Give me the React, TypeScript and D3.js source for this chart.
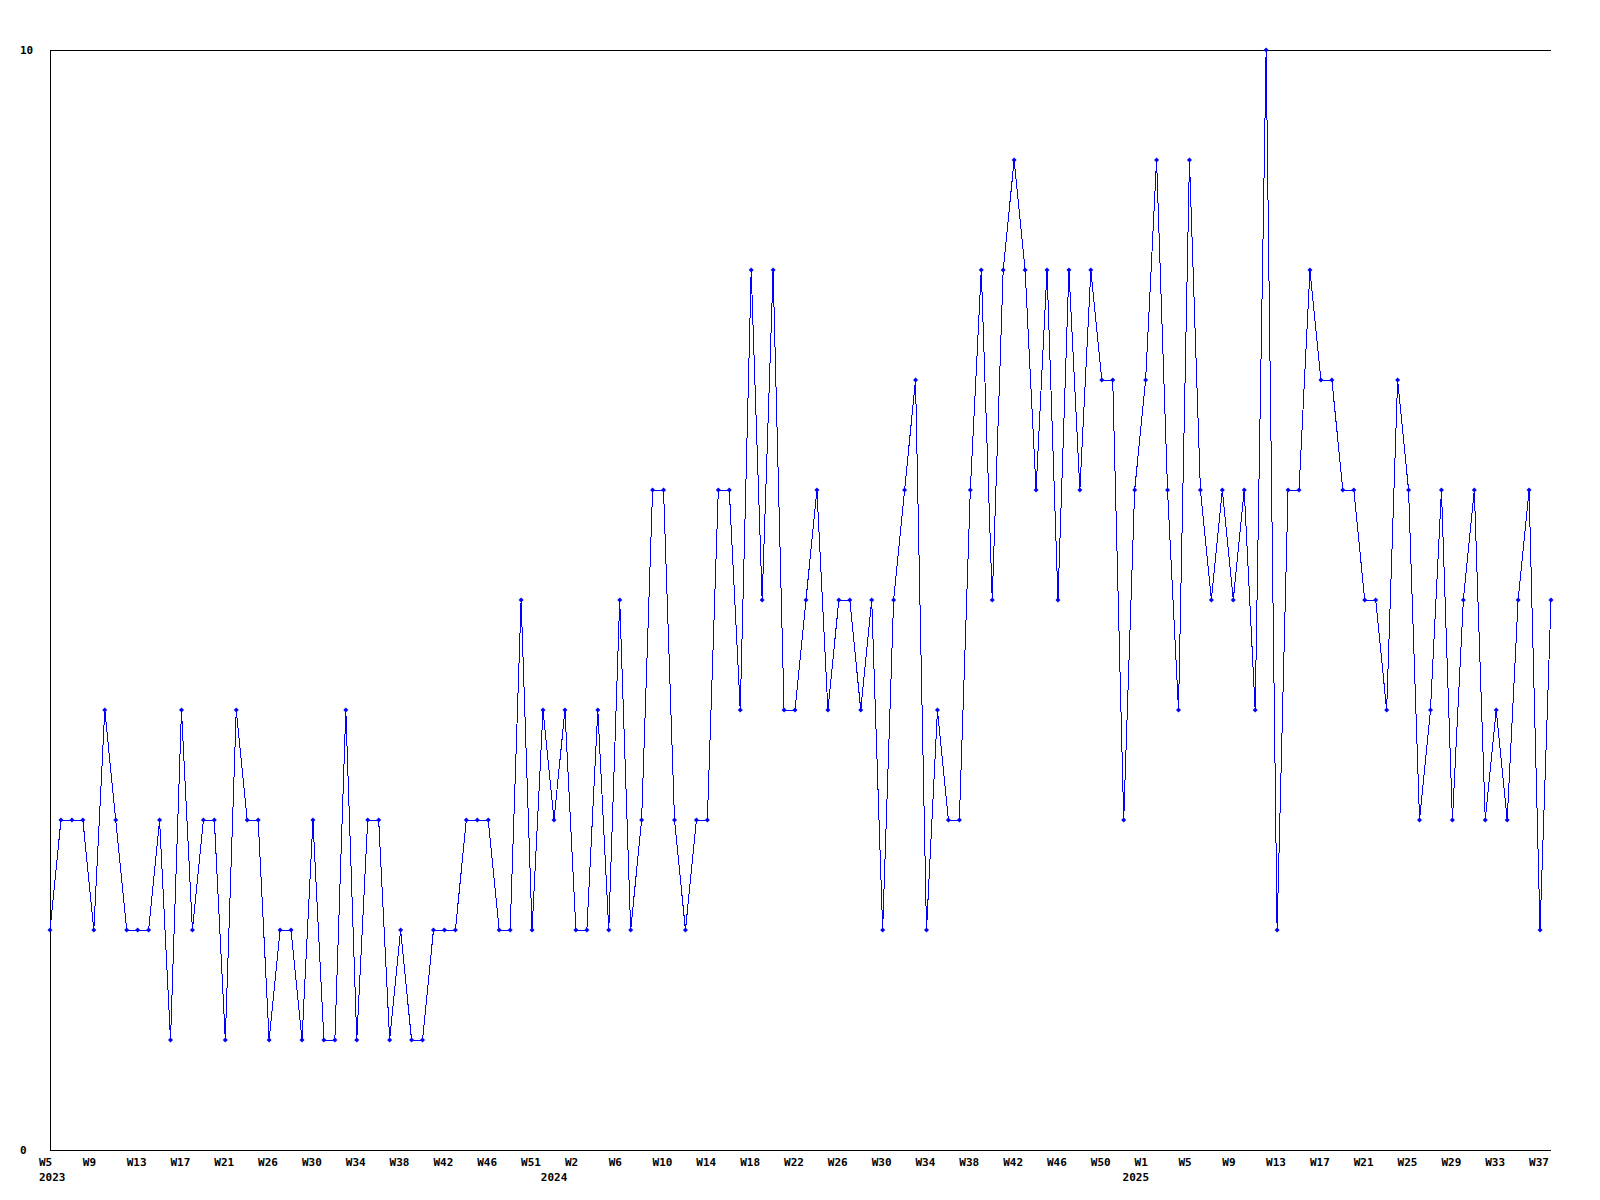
import React from "react";
import * as d3 from "d3";

// Weekly values, 2023 W5 .. 2025 W38 (138 weeks)
const values: number[] = [
  2, 3, 3, 3, 2, 4, 3, 2, 2, 2,
  3, 1, 4, 2, 3, 3, 1, 4, 3, 3,
  1, 2, 2, 1, 3, 1, 1, 4, 1, 3,
  3, 1, 2, 1, 1, 2, 2, 2, 3, 3,
  3, 2, 2, 5, 2, 4, 3, 4, 2, 2,
  4, 2, 5, 2, 3, 6, 6, 3, 2, 3,
  3, 6, 6, 4, 8, 5, 8, 4, 4, 5,
  6, 4, 5, 5, 4, 5, 2, 5, 6, 7,
  2, 4, 3, 3, 6, 8, 5, 8, 9, 8,
  6, 8, 5, 8, 6, 8, 7, 7, 3, 6,
  7, 9, 6, 4, 9, 6, 5, 6, 5, 6,
  4, 10, 2, 6, 6, 8, 7, 7, 6, 6,
  5, 5, 4, 7, 6, 3, 4, 6, 3, 5,
  6, 3, 4, 3, 5, 6, 2, 5,
];

// Week tick labels (one every 4 data points)
const weekLabels: string[] = [
  "W5", "W9", "W13", "W17", "W21", "W26", "W30", "W34", "W38", "W42", "W46", "W51",
  "W2", "W6", "W10", "W14", "W18", "W22", "W26", "W30", "W34", "W38", "W42", "W46", "W50",
  "W1", "W5", "W9", "W13", "W17", "W21", "W25", "W29", "W33", "W37",
];
const tickStep = 4;

// Year labels and their position in data-index units
const yearLabels: string[] = ["2023", "2024", "2025"];
const yearPositions: number[] = [0, 45.8, 98.9];

const yTickValues: number[] = [0, 10];

const FONT = "'DejaVu Sans Mono', monospace";

export default function App() {
  const W = 1600;
  const H = 1200;
  const left = 50;
  const right = 1551;
  const top = 50;
  const bottom = 1150;

  const x = d3.scaleLinear().domain([0, values.length - 1]).range([left, right]);
  const y = d3.scaleLinear().domain([0, 10]).range([bottom, top]);

  const line = d3
    .line<number>()
    .x((_, i) => x(i))
    .y((d) => y(d));

  const diamond = (cx: number, cy: number, r: number) =>
    `M${cx},${cy - r}L${cx + r},${cy}L${cx},${cy + r}L${cx - r},${cy}Z`;

  return (
    <svg
      width={W}
      height={H}
      style={{ position: "absolute", left: 0, top: 0, background: "#fff" }}
    >
      <rect x={0} y={0} width={W} height={H} fill="#fff" />
      {/* frame */}
      <line x1={left} x2={right} y1={top + 0.5} y2={top + 0.5} stroke="#000" strokeWidth={1} />
      <line x1={left + 0.5} x2={left + 0.5} y1={top} y2={bottom} stroke="#000" strokeWidth={1} />
      <line x1={left} x2={right} y1={bottom + 0.5} y2={bottom + 0.5} stroke="#000" strokeWidth={1} />

      {/* series */}
      <path
        d={line(values) || ""}
        fill="none"
        stroke="#0000ff"
        strokeWidth={1}
        shapeRendering="crispEdges"
      />
      {values.map((v, i) => (
        <path key={i} d={diamond(x(i), y(v), 2.5)} fill="#0000ff" />
      ))}

      {/* y labels */}
      {yTickValues.map((t) => (
        <text
          key={t}
          x={20}
          y={y(t) + 4}
          fontFamily={FONT}
          fontWeight="bold"
          fontSize={11}
          fill="#000"
        >
          {t}
        </text>
      ))}

      {/* x week labels */}
      {weekLabels.map((lab, k) => (
        <text
          key={k}
          x={x(k * tickStep) - 11}
          y={1166}
          fontFamily={FONT}
          fontWeight="bold"
          fontSize={11}
          fill="#000"
        >
          {lab}
        </text>
      ))}

      {/* year labels */}
      {yearLabels.map((lab, k) => (
        <text
          key={lab}
          x={x(yearPositions[k]) - 11}
          y={1181}
          fontFamily={FONT}
          fontWeight="bold"
          fontSize={11}
          fill="#000"
        >
          {lab}
        </text>
      ))}
    </svg>
  );
}
